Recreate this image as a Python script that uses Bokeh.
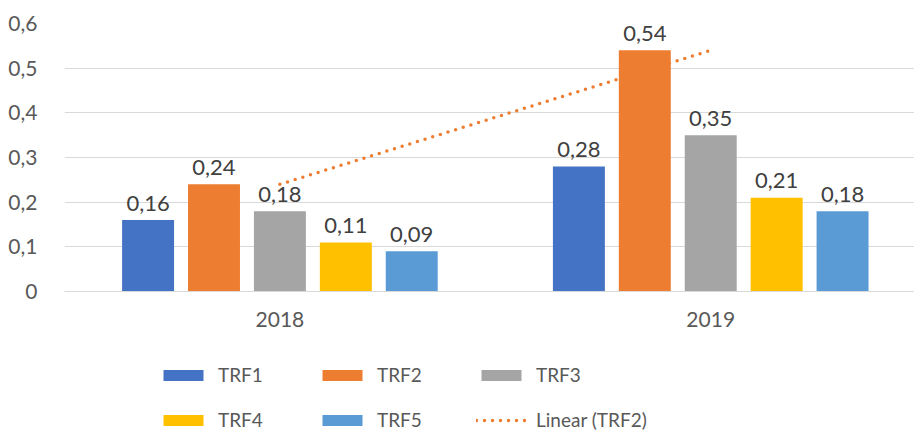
from bokeh.plotting import figure
from bokeh.models import Range1d, FixedTicker, Legend, LegendItem, ColumnDataSource
from bokeh.embed import file_html
from bokeh.resources import INLINE
from bokeh.core.properties import value
import numpy as np

# ---------------- data ----------------
years = ["2018", "2019"]
series = ["TRF1", "TRF2", "TRF3", "TRF4", "TRF5"]
trf1 = [0.16, 0.28]
trf2 = [0.24, 0.54]
trf3 = [0.18, 0.35]
trf4 = [0.11, 0.21]
trf5 = [0.09, 0.18]
series_values = [trf1, trf2, trf3, trf4, trf5]
colors = ["#4472C4", "#ED7D31", "#A5A5A5", "#FFC000", "#5B9BD5"]
y_ticks = [0, 0.1, 0.2, 0.3, 0.4, 0.5, 0.6]
y_tick_labels = ["0", "0,1", "0,2", "0,3", "0,4", "0,5", "0,6"]
trend_label = "Linear (TRF2)"

FONT = "Lato"
TXT = "#404040"
AX = "#595959"
GRID = "#D9D9D9"

# frame extends to the bottom so the legend can live inside it;
# the category axis is pinned at y = 0
p = figure(width=914, height=432, output_backend="svg", toolbar_location=None,
           x_range=Range1d(0, 1.973), y_range=Range1d(-0.3154, 0.6),
           min_border_left=64, min_border_right=0, min_border_top=23,
           min_border_bottom=0)
p.outline_line_color = None
p.background_fill_color = "white"

# axes
cat_x = [k + 0.5 for k in range(len(years))]
p.xaxis.fixed_location = 0
p.xaxis.ticker = FixedTicker(ticks=cat_x)
p.xaxis.major_label_overrides = dict(zip(cat_x, years))
p.xaxis.axis_line_color = GRID
p.xaxis.axis_line_width = 1
p.xaxis.major_tick_line_color = None
p.xaxis.minor_tick_line_color = None
p.xaxis.major_label_standoff = 14
p.xaxis.major_label_text_font = FONT
p.xaxis.major_label_text_font_size = "21px"
p.xaxis.major_label_text_color = AX

p.yaxis.ticker = FixedTicker(ticks=y_ticks)
p.yaxis.major_label_overrides = dict(zip(y_ticks, y_tick_labels))
p.yaxis.axis_line_color = None
p.yaxis.major_tick_line_color = None
p.yaxis.minor_tick_line_color = None
p.yaxis.major_label_standoff = 21
p.yaxis.major_label_text_font = FONT
p.yaxis.major_label_text_font_size = "21px"
p.yaxis.major_label_text_color = AX

p.xgrid.grid_line_color = None
p.ygrid.ticker = FixedTicker(ticks=y_ticks)
p.ygrid.grid_line_color = GRID
p.ygrid.grid_line_width = 1

# trend line (linear fit of TRF2)
xi = np.arange(1, len(years) + 1)
coef = np.polyfit(xi, trf2, 1)
trend_y = list(np.polyval(coef, xi))
trend_r = p.line(x=cat_x, y=trend_y, line_color="#ED7D31", line_width=3.5,
                 line_dash="0 8", line_cap="round")

# bars
n = len(series)
pitch = 0.153
bw = 0.1206
bar_renderers = []
for i, (s, vals) in enumerate(zip(series, series_values)):
    off = (i - (n - 1) / 2) * pitch
    xs = [c + off for c in cat_x]
    src = ColumnDataSource(dict(x=xs, top=vals,
                                label=[f"{v:.2f}".replace(".", ",") for v in vals]))
    r = p.vbar(x="x", top="top", bottom=0, width=bw, source=src,
               fill_color=colors[i], line_color=None)
    bar_renderers.append(r)
    p.text(x="x", y="top", text="label", source=src, text_align="center",
           text_baseline="alphabetic", y_offset=-17, text_font=value(FONT),
           text_font_size="22px", text_color=TXT)

items = [LegendItem(label=s, renderers=[r]) for s, r in zip(series, bar_renderers)]
items.append(LegendItem(label=trend_label, renderers=[trend_r]))
legend = Legend(items=items, orientation="horizontal", ncols=3,
                location=(94, 1), padding=0, margin=0, spacing=22,
                border_line_color=None, background_fill_alpha=0,
                glyph_width=50, glyph_height=14, label_standoff=10,
                label_width=77, label_text_font=FONT, label_text_font_size="19px",
                label_text_color=AX)
p.add_layout(legend)

open("out.html", "w").write(file_html(p, INLINE))
